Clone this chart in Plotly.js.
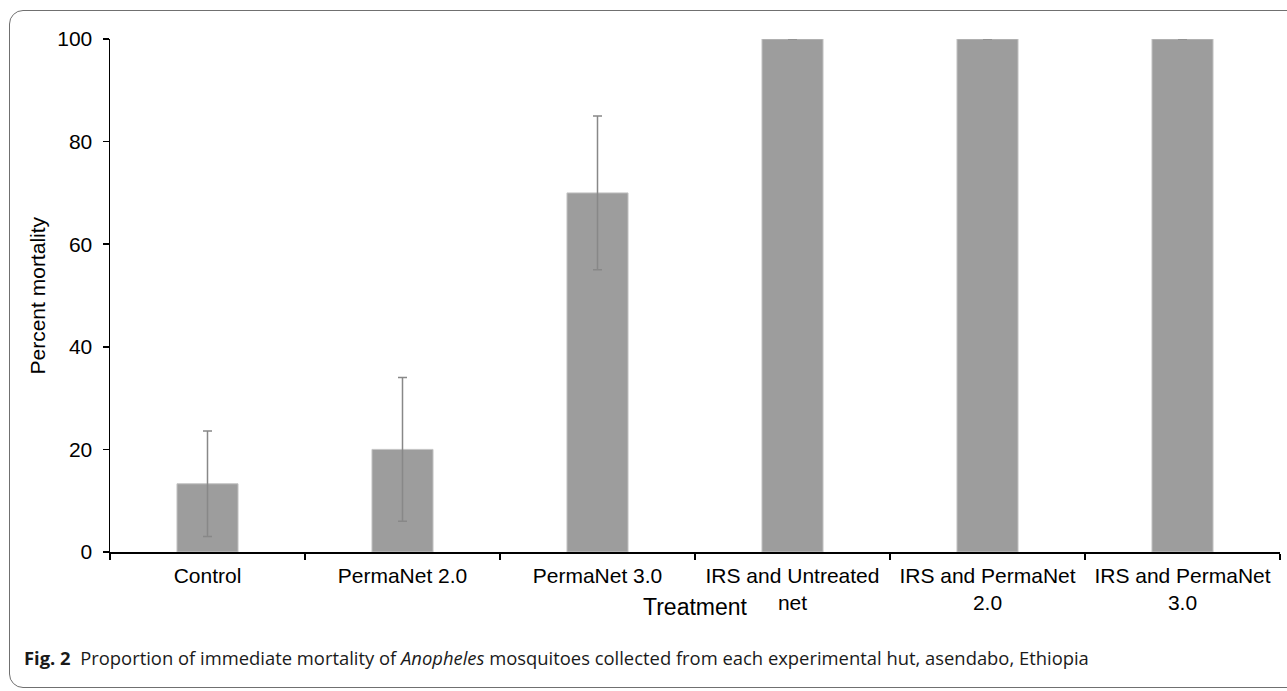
<!DOCTYPE html>
<html>
<head>
<meta charset="utf-8">
<script src="https://cdn.plot.ly/plotly-3.0.1.min.js"></script>
<style>
  html, body { margin: 0; padding: 0; background: #ffffff; }
  #wrap { position: relative; width: 1287px; height: 691px; overflow: hidden; }
  #frame { position: absolute; left: 9px; top: 10px; width: 1320px; height: 678px;
           border: 1.5px solid #707070; border-radius: 14px; box-sizing: border-box; }
  #chart { position: absolute; left: 0; top: 0; width: 1287px; height: 691px; }
</style>
</head>
<body>
<div id="wrap">
  <div id="frame"></div>
  <div id="chart"></div>
</div>
<script>
const categories = ['Control', 'PermaNet 2.0', 'PermaNet 3.0', 'IRS and Untreated<br>net', 'IRS and PermaNet<br>2.0', 'IRS and PermaNet<br>3.0'];
const mortality = [13.3, 20, 70, 100, 100, 100];
const errorMargin = [10.3, 14, 15, null, null, null];
const yTicks = [0, 20, 40, 60, 80, 100];
const yTitle = 'Percent mortality';
const xTitle = 'Treatment';
const caption = '<b>Fig. 2</b>  Proportion of immediate mortality of <i>Anopheles</i> mosquitoes collected from each experimental hut, asendabo, Ethiopia';

const trace = {
  type: 'bar',
  x: categories,
  y: mortality,
  marker: { color: '#9d9d9d', line: { color: '#c4c4c4', width: 1 } },
  error_y: { type: 'data', array: errorMargin, visible: true, color: '#888888', thickness: 1.5, width: 4.5 },
  hoverinfo: 'none'
};

const font = 'Liberation Sans, Arial, sans-serif';
const layout = {
  width: 1287, height: 691,
  margin: { l: 110, r: 7, t: 39, b: 139 },
  paper_bgcolor: 'rgba(0,0,0,0)',
  plot_bgcolor: 'rgba(0,0,0,0)',
  bargap: 0.687,
  showlegend: false,
  font: { family: font, color: '#000000', size: 21 },
  xaxis: {
    type: 'category',
    showline: true, linecolor: '#000000', linewidth: 1.5,
    ticks: 'outside', tickson: 'boundaries', ticklen: 6, tickcolor: '#000000', tickwidth: 1.5,
    showgrid: false, zeroline: false,
    tickfont: { family: font, size: 21, color: '#000000' },
    ticklabelstandoff: 4,
    automargin: false
  },
  yaxis: {
    range: [0, 100], tickvals: yTicks, ticktext: yTicks.map(String),
    showline: true, linecolor: '#000000', linewidth: 1.5,
    ticks: 'outside', ticklen: 6, tickcolor: '#000000', tickwidth: 1.5,
    showgrid: false, zeroline: false,
    tickfont: { family: font, size: 21, color: '#000000' },
    ticklabelstandoff: 6,
    automargin: false
  },
  annotations: [
    { text: yTitle, xref: 'paper', yref: 'paper', x: 0, y: 0.5, xshift: -73, textangle: -90,
      showarrow: false, xanchor: 'center', yanchor: 'middle', font: { family: font, size: 21, color: '#000' } },
    { text: xTitle, xref: 'paper', yref: 'paper', x: 0.5, y: 0, yshift: -55,
      showarrow: false, xanchor: 'center', yanchor: 'middle', font: { family: font, size: 23, color: '#000' } },
    { text: caption, xref: 'paper', yref: 'paper', x: 0, y: 0, xshift: -88, yshift: -105,
      showarrow: false, xanchor: 'left', yanchor: 'middle', align: 'left',
      font: { family: 'Open Sans, sans-serif', size: 18.4, color: '#1a1a1a' } }
  ]
};

Plotly.newPlot('chart', [trace], layout, { staticPlot: true, displayModeBar: false });
</script>
</body>
</html>
